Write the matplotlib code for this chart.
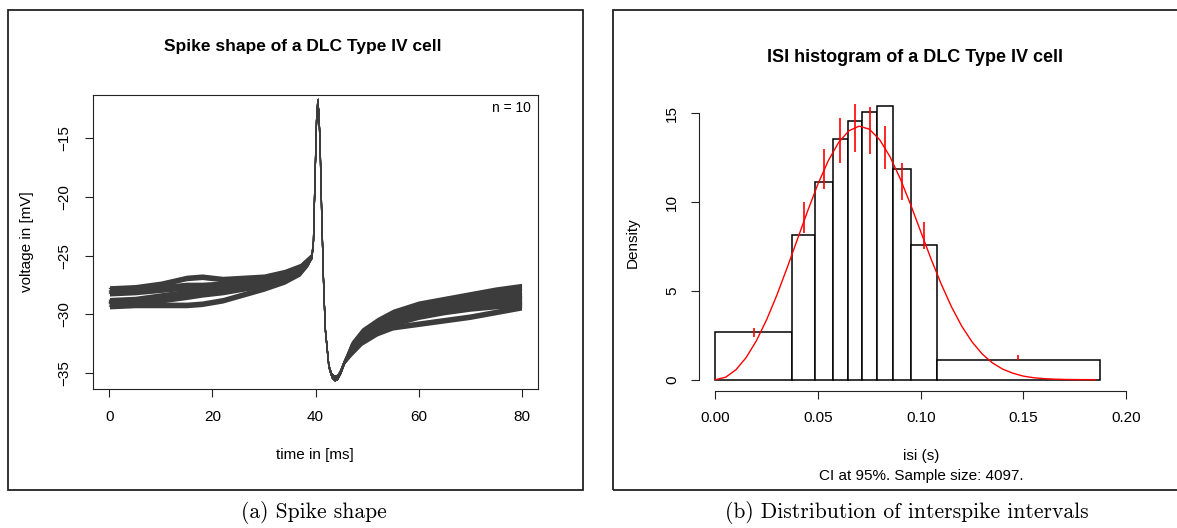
import numpy as np
import matplotlib
matplotlib.use("Agg")
import matplotlib.pyplot as plt
from matplotlib.patches import Rectangle

# --- Settings ---
W, H = 1177, 528
SANS = "Liberation Sans"
TRACE_COLOR = "#3c3c3c"
NOISE = 0.24         # half-width of the noisy band drawn around each trace (mV)

# --- Data: spike shape (10 aligned traces) ---
T_PRE = [0, 5, 10, 15, 18, 22, 26, 30, 34, 37, 38.5]
V_PRE = [
    [-27.8, -27.7, -27.4, -26.9, -26.8, -27.0, -26.9, -26.8, -26.4, -25.9, -25.3],
    [-28.0, -27.9, -27.7, -27.5, -27.5, -27.4, -27.1, -26.9, -26.5, -26.0, -25.4],
    [-28.1, -28.0, -27.8, -27.6, -27.6, -27.5, -27.2, -27.0, -26.6, -26.0, -25.4],
    [-28.2, -28.1, -27.9, -27.7, -27.7, -27.6, -27.3, -27.1, -26.7, -26.1, -25.5],
    [-28.8, -28.7, -28.4, -28.1, -27.9, -27.7, -27.5, -27.2, -26.8, -26.2, -25.5],
    [-28.9, -28.8, -28.6, -28.3, -28.0, -27.9, -27.6, -27.3, -26.9, -26.3, -25.6],
    [-29.0, -28.9, -28.7, -28.4, -28.1, -28.0, -27.7, -27.4, -27.0, -26.4, -25.6],
    [-29.0, -28.8, -28.6, -28.4, -28.2, -28.0, -27.7, -27.4, -27.0, -26.3, -25.6],
    [-29.1, -29.0, -28.8, -28.5, -28.3, -28.1, -27.8, -27.5, -27.1, -26.4, -25.6],
    [-29.3, -29.2, -29.2, -29.2, -29.1, -28.8, -28.3, -27.8, -27.2, -26.5, -25.7],
]
T_SPIKE = [39.3, 39.6, 39.9, 40.2, 40.45, 40.7, 40.9, 41.2, 41.55, 41.9, 42.6,
           43.1, 43.7, 44.3, 44.9, 45.6]
V_SPIKE = [-25.0, -23.8, -18.5, -13.5, -11.75, -13.3, -15.7, -21.4, -27.1, -31.3, -34.5,
           -35.2, -35.45, -35.3, -34.8, -34.0]
T_POST = [47, 49, 52, 55, 60, 65, 70, 75, 80]
V_POST = [
    [-32.5, -31.4, -30.5, -29.8, -29.1, -28.7, -28.3, -27.9, -27.6],
    [-32.6, -31.5, -30.6, -30.0, -29.3, -28.9, -28.5, -28.1, -27.9],
    [-32.7, -31.7, -30.8, -30.2, -29.6, -29.2, -28.9, -28.5, -28.3],
    [-32.8, -31.8, -30.9, -30.3, -29.7, -29.3, -29.0, -28.7, -28.5],
    [-32.9, -31.9, -31.0, -30.4, -29.8, -29.4, -29.1, -28.8, -28.6],
    [-33.0, -32.0, -31.1, -30.5, -29.9, -29.5, -29.2, -28.9, -28.8],
    [-33.0, -32.1, -31.2, -30.6, -30.0, -29.6, -29.3, -29.0, -29.0],
    [-33.1, -32.2, -31.3, -30.7, -30.1, -29.7, -29.4, -29.1, -29.1],
    [-33.2, -32.3, -31.4, -30.8, -30.2, -29.8, -29.5, -29.3, -29.2],
    [-33.3, -32.4, -31.6, -31.1, -30.8, -30.5, -30.2, -29.8, -29.4],
]

# --- Data: ISI histogram ---
BIN_EDGES = [0.0, 0.0375, 0.0485, 0.0571, 0.0644, 0.0714, 0.0787, 0.0863, 0.0952, 0.1077, 0.1873]
DENSITY = [2.71, 8.12, 11.12, 13.55, 14.54, 15.05, 15.42, 11.84, 7.57, 1.13]
CI_X = [0.0187, 0.0432, 0.0527, 0.0608, 0.0678, 0.0751, 0.0824, 0.0907, 0.1014, 0.1476]
CI_LOW = [2.40, 8.26, 10.74, 12.21, 12.83, 12.72, 11.84, 10.11, 7.33, 1.13]
CI_HIGH = [2.90, 9.99, 12.98, 14.73, 15.50, 15.33, 14.28, 12.19, 8.87, 1.41]
FIT_X = np.arange(0, 0.1851, 0.005)
FIT_Y = [0.0, 0.14, 0.56, 1.25, 2.20, 3.39, 4.78, 6.32, 7.92, 9.52, 11.03, 12.33,
         13.35, 14.01, 14.27, 14.10, 13.51, 12.56, 11.32, 9.88, 8.34, 6.81, 5.38,
         4.10, 3.01, 2.13, 1.44, 0.94, 0.59, 0.36, 0.20, 0.11, 0.06, 0.03, 0.014,
         0.006, 0.003, 0.001]


def fx(px):
    return px / W


def fy(py):
    return 1 - py / H


def style_ticks(ax, pad):
    ax.tick_params(direction="out", length=5.8, width=0.8, colors="#222222",
                   labelcolor="black", labelsize=11, pad=pad)
    ax.tick_params(axis="y", labelrotation=90)
    for lab in ax.get_yticklabels():
        lab.set_va("center")


plt.rcParams["font.family"] = SANS
fig = plt.figure(figsize=(W / 100, H / 100), dpi=100)

# --- Left panel: spike shape ---
ax1 = fig.add_axes([fx(93), fy(389), fx(538 - 93), (389 - 95) / H])
t_all = np.array(T_PRE + T_SPIKE + T_POST)
for pre, post in zip(V_PRE, V_POST):
    v = np.array(pre + V_SPIKE + post)
    ax1.fill_between(t_all, v - NOISE, v + NOISE, color=TRACE_COLOR, lw=0)
    ax1.plot(t_all, v, color=TRACE_COLOR, lw=0.9)
ax1.set_xlim(-3.2, 83.2)
ax1.set_ylim(-36.36, -11.32)
ax1.set_xticks([0, 20, 40, 60, 80])
ax1.set_yticks([-35, -30, -25, -20, -15])
for s in ax1.spines.values():
    s.set_linewidth(0.8)
    s.set_color("#222222")
style_ticks(ax1, 9.5)
ax1.text(0.985, 0.955, "n = 10", transform=ax1.transAxes, ha="right", va="center", fontsize=10)

fig.text(fx(303), fy(46), "Spike shape of a DLC Type IV cell", ha="center", va="center",
         fontsize=12.5, fontweight="bold")
fig.text(fx(315), fy(455), "time in [ms]", ha="center", va="center", fontsize=11)
fig.text(fx(27), fy(242), "voltage in [mV]", ha="center", va="center", fontsize=11, rotation=90)

# --- Right panel: ISI histogram ---
ax2 = fig.add_axes([fx(699), fy(390.7), fx(1142.4 - 699), (390.7 - 93.3) / H])
ax2.bar(BIN_EDGES[:-1], DENSITY, width=np.diff(BIN_EDGES), align="edge",
        facecolor="white", edgecolor="black", linewidth=1.1)
ax2.plot(FIT_X, FIT_Y, color="red", lw=1.0)
ax2.vlines(CI_X, CI_LOW, CI_HIGH, color="red", lw=1.2)
ax2.set_xlim(-0.008, 0.208)
ax2.set_ylim(-0.62, 16.12)
ax2.set_xticks([0.0, 0.05, 0.10, 0.15, 0.20])
ax2.set_xticklabels(["0.00", "0.05", "0.10", "0.15", "0.20"])
ax2.set_yticks([0, 5, 10, 15])
ax2.spines["top"].set_visible(False)
ax2.spines["right"].set_visible(False)
ax2.spines["left"].set_bounds(0, 15)
ax2.spines["bottom"].set_bounds(0, 0.2)
for s in ax2.spines.values():
    s.set_linewidth(0.8)
    s.set_color("#222222")
style_ticks(ax2, 8.5)

fig.text(fx(915), fy(58), "ISI histogram of a DLC Type IV cell", ha="center", va="center",
         fontsize=13, fontweight="bold")
fig.text(fx(921), fy(456), "isi (s)", ha="center", va="center", fontsize=11)
fig.text(fx(921), fy(476), "CI at 95%. Sample size: 4097.", ha="center", va="center", fontsize=11)
fig.text(fx(633), fy(243), "Density", ha="center", va="center", fontsize=11, rotation=90)

# --- Outer frames and captions ---
fig.add_artist(Rectangle((fx(8), fy(490)), fx(583 - 8), (490 - 10) / H, transform=fig.transFigure,
                         fill=False, lw=1.3, ec="#222222"))
fig.add_artist(Rectangle((fx(613), fy(490)), fx(1190 - 613), (490 - 10) / H, transform=fig.transFigure,
                         fill=False, lw=1.3, ec="#222222"))
fig.text(fx(314), fy(513), "(a) Spike shape", ha="center", va="center", fontsize=15.5, family="cmr10")
fig.text(fx(907), fy(513), "(b) Distribution of interspike intervals", ha="center", va="center",
         fontsize=15.5, family="cmr10")

fig.savefig("out.png", dpi=100)
